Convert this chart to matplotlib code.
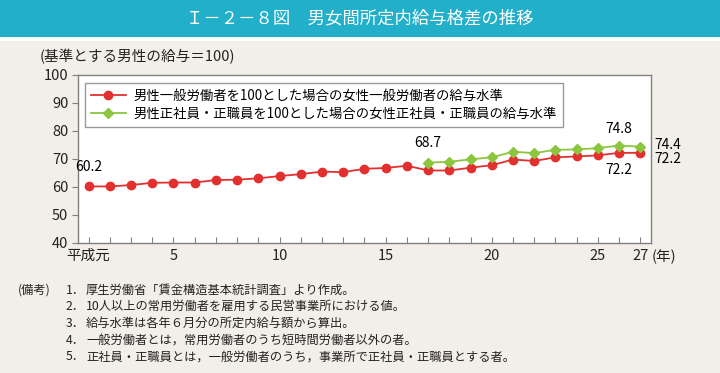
import matplotlib
matplotlib.use("Agg")
import matplotlib.pyplot as plt
from matplotlib.patches import Rectangle

plt.rcParams['font.family'] = ['Noto Sans CJK JP', 'DejaVu Sans']

years = list(range(1, 28))
general = [60.2, 60.2, 60.7, 61.5, 61.6, 61.6, 62.5, 62.6, 63.1, 63.9,
           64.6, 65.5, 65.3, 66.5, 66.8, 67.6, 65.9, 65.9, 66.9, 67.8,
           69.8, 69.3, 70.6, 70.9, 71.3, 72.2, 72.2]
regular_years = list(range(17, 28))
regular = [68.7, 69.0, 69.9, 70.6, 72.6, 72.1, 73.3, 73.4, 73.9, 74.8, 74.4]

xtick_pos = [1, 5, 10, 15, 20, 25, 27]
xtick_lab = ['平成元', '5', '10', '15', '20', '25', '27']
yticks = [40, 50, 60, 70, 80, 90, 100]

label_general = '男性一般労働者を100とした場合の女性一般労働者の給与水準'
label_regular = '男性正社員・正職員を100とした場合の女性正社員・正職員の給与水準'
title = 'Ｉ－２－８図　男女間所定内給与格差の推移'
ylabel = '(基準とする男性の給与＝100)'
notes = [
    ('(備考)', '1．', '厚生労働省「賃金構造基本統計調査」より作成。'),
    ('', '2．', '10人以上の常用労働者を雇用する民営事業所における値。'),
    ('', '3．', '給与水準は各年６月分の所定内給与額から算出。'),
    ('', '4．', '一般労働者とは，常用労働者のうち短時間労働者以外の者。'),
    ('', '5．', '正社員・正職員とは，一般労働者のうち，事業所で正社員・正職員とする者。'),
]

BG = '#f2efe8'
RED = '#e2302f'
GREEN = '#8cc63e'
TEAL = '#22afc9'

fig = plt.figure(figsize=(7.2, 3.73), dpi=100)
fig.patch.set_facecolor(BG)

# title bar
fig.patches.append(Rectangle((0, 1 - 37/373), 1, 37/373, transform=fig.transFigure,
                             facecolor=TEAL, edgecolor='none', zorder=0))
fig.patches.append(Rectangle((0, 1 - 41/373), 1, 4/373, transform=fig.transFigure,
                             facecolor='white', edgecolor='none', zorder=0))
fig.text(0.5, 1 - 18/373, title, color='white', fontsize=12.5, ha='center', va='center')

ax = fig.add_axes([78/720, 1 - 243/373, (651 - 78)/720, (243 - 75)/373])
ax.set_facecolor('white')
ax.plot(years, general, color=RED, marker='o', markersize=6, linewidth=1.3,
        label=label_general, zorder=3)
ax.plot(regular_years, regular, color=GREEN, marker='D', markersize=5.5, linewidth=1.3,
        label=label_regular, zorder=3)

ax.set_xlim(0.5, 27.5)
ax.set_ylim(40, 100)
ax.set_yticks(yticks)
ax.tick_params(axis='y', direction='out', length=4, color='#808080', labelsize=10.5,
               pad=3, labelcolor='#222222')
ax.set_xticks(years)
ax.set_xticklabels([xtick_lab[xtick_pos.index(y)] if y in xtick_pos else '' for y in years])
ax.tick_params(axis='x', direction='in', length=4, color='#808080', labelsize=10.5,
               pad=4, labelcolor='#222222')
for s in ax.spines.values():
    s.set_color('#808080')
    s.set_linewidth(1.0)

fig.text(652/720, 1 - 257/373, '(年)', fontsize=10.5, ha='left', va='center', color='#222222')

leg = ax.legend(loc='upper left', bbox_to_anchor=(0.012, 0.955), fontsize=9.6,
                frameon=True, fancybox=False, edgecolor='#808080', handlelength=2.6,
                borderpad=0.45, labelspacing=0.3, handletextpad=0.6, borderaxespad=0)
leg.get_frame().set_linewidth(1.0)

# annotations
ax.annotate(f'{general[0]:.1f}', (years[0], general[0]), xytext=(0, 9),
            textcoords='offset points', ha='center', va='bottom', fontsize=10)
ax.annotate(f'{regular[0]:.1f}', (regular_years[0], regular[0]), xytext=(0, 9),
            textcoords='offset points', ha='center', va='bottom', fontsize=10)
ax.annotate(f'{regular[-2]:.1f}', (regular_years[-2], regular[-2]), xytext=(0, 7),
            textcoords='offset points', ha='center', va='bottom', fontsize=10)
ax.annotate(f'{general[-2]:.1f}', (years[-2], general[-2]), xytext=(0, -7),
            textcoords='offset points', ha='center', va='top', fontsize=10)
ax.annotate(f'{regular[-1]:.1f}', (regular_years[-1], regular[-1]), xytext=(10, 1),
            textcoords='offset points', ha='left', va='center', fontsize=10,
            annotation_clip=False)
ax.annotate(f'{general[-1]:.1f}', (years[-1], general[-1]), xytext=(10, -4.5),
            textcoords='offset points', ha='left', va='center', fontsize=10,
            annotation_clip=False)

fig.text(40/720, 1 - 57/373, ylabel, fontsize=10.5, ha='left', va='center', color='#222222')

# notes
y0 = 290
for i, (a, b, c) in enumerate(notes):
    yy = 1 - (y0 + i * 16.7) / 373
    if a:
        fig.text(18/720, yy, a, fontsize=8.8, ha='left', va='center', color='#222222')
    fig.text(66/720, yy, b, fontsize=8.8, ha='left', va='center', color='#222222')
    fig.text(86/720, yy, c, fontsize=8.8, ha='left', va='center', color='#222222')

fig.savefig('out.png', dpi=100, facecolor=fig.get_facecolor())
